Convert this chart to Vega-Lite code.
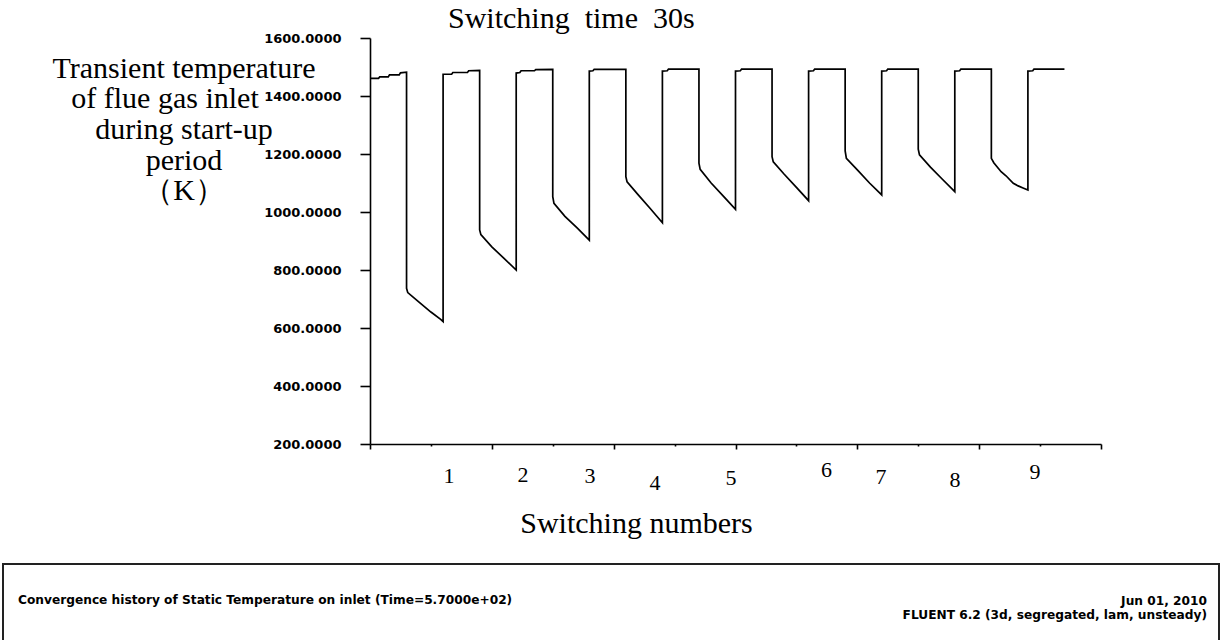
{
  "$schema": "https://vega.github.io/schema/vega-lite/v6.json",
  "background": "white",
  "padding": {"left": 2, "top": 4, "right": 0, "bottom": 0},
  "spacing": 25,
  "config": {
    "view": {"stroke": null},
    "axis": {"grid": false, "domainColor": "black", "tickColor": "black", "labelColor": "black", "titleColor": "black", "domainWidth": 1.6, "tickWidth": 1.6}
  },
  "datasets": {
    "temp": [
      {"t": 0, "T": 1461}, {"t": 7, "T": 1461}, {"t": 8, "T": 1466}, {"t": 15, "T": 1466}, {"t": 16, "T": 1473}, {"t": 24, "T": 1473}, {"t": 25, "T": 1480}, {"t": 30, "T": 1482},
      {"t": 30, "T": 737}, {"t": 31, "T": 722}, {"t": 40, "T": 690}, {"t": 50, "T": 655}, {"t": 58, "T": 630}, {"t": 60, "T": 622},
      {"t": 60, "T": 1475}, {"t": 67, "T": 1475}, {"t": 68, "T": 1481}, {"t": 80, "T": 1481}, {"t": 81, "T": 1487}, {"t": 90, "T": 1488},
      {"t": 90, "T": 938}, {"t": 91, "T": 922}, {"t": 100, "T": 880}, {"t": 110, "T": 840}, {"t": 120, "T": 800},
      {"t": 120, "T": 1479}, {"t": 123, "T": 1481}, {"t": 124, "T": 1487}, {"t": 135, "T": 1487}, {"t": 136, "T": 1491}, {"t": 150, "T": 1492},
      {"t": 150, "T": 1053}, {"t": 151, "T": 1030}, {"t": 160, "T": 985}, {"t": 170, "T": 945}, {"t": 180, "T": 903},
      {"t": 180, "T": 1486}, {"t": 183, "T": 1487}, {"t": 184, "T": 1492}, {"t": 210, "T": 1492},
      {"t": 210, "T": 1122}, {"t": 211, "T": 1104}, {"t": 220, "T": 1060}, {"t": 230, "T": 1012}, {"t": 240, "T": 963},
      {"t": 240, "T": 1486}, {"t": 244, "T": 1487}, {"t": 245, "T": 1493}, {"t": 270, "T": 1493},
      {"t": 270, "T": 1168}, {"t": 271, "T": 1147}, {"t": 280, "T": 1100}, {"t": 290, "T": 1055}, {"t": 300, "T": 1009},
      {"t": 300, "T": 1486}, {"t": 304, "T": 1487}, {"t": 305, "T": 1493}, {"t": 330, "T": 1493},
      {"t": 330, "T": 1191}, {"t": 331, "T": 1173}, {"t": 340, "T": 1130}, {"t": 350, "T": 1085}, {"t": 360, "T": 1039},
      {"t": 360, "T": 1486}, {"t": 364, "T": 1487}, {"t": 365, "T": 1493}, {"t": 390, "T": 1493},
      {"t": 390, "T": 1211}, {"t": 391, "T": 1185}, {"t": 400, "T": 1145}, {"t": 410, "T": 1100}, {"t": 420, "T": 1059},
      {"t": 420, "T": 1486}, {"t": 424, "T": 1487}, {"t": 425, "T": 1493}, {"t": 450, "T": 1493},
      {"t": 450, "T": 1217}, {"t": 451, "T": 1197}, {"t": 460, "T": 1155}, {"t": 470, "T": 1112}, {"t": 480, "T": 1070},
      {"t": 480, "T": 1486}, {"t": 484, "T": 1487}, {"t": 485, "T": 1493}, {"t": 510, "T": 1493},
      {"t": 510, "T": 1185}, {"t": 512, "T": 1170}, {"t": 518, "T": 1139}, {"t": 522, "T": 1125}, {"t": 528, "T": 1099}, {"t": 532, "T": 1090}, {"t": 536, "T": 1083}, {"t": 540, "T": 1076},
      {"t": 540, "T": 1486}, {"t": 544, "T": 1487}, {"t": 545, "T": 1493}, {"t": 570, "T": 1493}
    ],
    "switches": [
      {"t": 64.8, "T": 90, "n": "1"},
      {"t": 125.6, "T": 93, "n": "2"},
      {"t": 180.6, "T": 88, "n": "3"},
      {"t": 234, "T": 67, "n": "4"},
      {"t": 296.3, "T": 83, "n": "5"},
      {"t": 374.7, "T": 109, "n": "6"},
      {"t": 419.4, "T": 86, "n": "7"},
      {"t": 480.2, "T": 76, "n": "8"},
      {"t": 545.9, "T": 105, "n": "9"}
    ],
    "ytitle": [
      {"line": 1, "text": "Transient temperature"},
      {"line": 2, "text": "of flue gas inlet"},
      {"line": 3, "text": "during start-up"},
      {"line": 4, "text": "period"},
      {"line": 5, "text": "（K）"}
    ],
    "footer": [
      {"side": "left", "text": "Convergence history of Static Temperature on inlet  (Time=5.7000e+02)"},
      {"side": "right", "text": ["Jun 01, 2010", "FLUENT 6.2 (3d, segregated, lam, unsteady)"]}
    ]
  },
  "vconcat": [
    {
      "bounds": "flush",
      "spacing": 5,
      "hconcat": [
        {
          "width": 362,
          "height": 184,
          "data": {"name": "ytitle"},
          "encoding": {
            "y": {"field": "line", "type": "ordinal", "axis": null, "scale": {"type": "point", "padding": 1}},
            "text": {"field": "text"}
          },
          "layer": [
            {
              "transform": [{"filter": "datum.line !== 2"}],
              "mark": {"type": "text", "align": "center", "baseline": "middle", "font": "Liberation Serif", "fontSize": 30, "color": "black"}
            },
            {
              "transform": [{"filter": "datum.line === 2"}],
              "mark": {"type": "text", "align": "center", "baseline": "middle", "dx": -19, "font": "Liberation Serif", "fontSize": 30, "color": "black"}
            }
          ]
        },
        {
          "width": 731,
          "height": 406,
          "title": {"text": "Switching\u00a0 time\u00a0 30s", "anchor": "start", "frame": "group", "dx": 78, "offset": -26, "baseline": "alphabetic", "font": "Liberation Serif", "fontSize": 30, "fontWeight": "normal", "color": "black"},
          "layer": [
            {
              "data": {"name": "temp"},
              "mark": {"type": "line", "color": "black", "strokeWidth": 1.7, "interpolate": "linear"},
              "encoding": {
                "x": {"field": "t", "type": "quantitative", "scale": {"domain": [0, 600], "nice": false, "zero": false},
                  "axis": {"values": [0, 50, 100, 150, 200, 250, 300, 350, 400, 450, 500, 550, 600], "labels": false,
                    "tickSize": {"condition": {"test": "datum.value % 100 === 0", "value": 5}, "value": 2},
                    "title": "Switching numbers", "titleFont": "Liberation Serif", "titleFontSize": 30, "titleFontWeight": "normal",
                    "titleX": 266, "titleY": 88, "titleAlign": "center", "titleBaseline": "alphabetic", "titleAnchor": null}},
                "y": {"field": "T", "type": "quantitative", "scale": {"domain": [200, 1600], "nice": false, "zero": false},
                  "axis": {"values": [200, 300, 400, 500, 600, 700, 800, 900, 1000, 1100, 1200, 1300, 1400, 1500, 1600],
                    "format": ".4f", "labelExpr": "datum.value % 200 === 0 ? datum.label : ''",
                    "labelFont": "DejaVu Sans", "labelFontSize": 13, "labelFontWeight": "bold", "labelPadding": 19, "labelOverlap": false, "labelFlush": false,
                    "tickSize": {"condition": {"test": "datum.value % 200 === 0", "value": 10}, "value": 5},
                    "title": null}},
                "order": {"value": null}
              }
            },
            {
              "data": {"name": "switches"},
              "mark": {"type": "text", "font": "Liberation Serif", "fontSize": 22, "color": "black", "baseline": "middle", "align": "center", "clip": false},
              "encoding": {
                "x": {"field": "t", "type": "quantitative", "scale": {"domain": [0, 600], "nice": false, "zero": false}},
                "y": {"field": "T", "type": "quantitative", "scale": {"domain": [200, 1600], "nice": false, "zero": false}},
                "text": {"field": "n"}
              }
            }
          ]
        }
      ]
    },
    {
      "width": 1216,
      "height": 100,
      "view": {"stroke": "#222222", "strokeWidth": 2},
      "data": {"name": "footer"},
      "layer": [
        {
          "transform": [{"filter": "datum.side === 'left'"}],
          "mark": {"type": "text", "align": "left", "baseline": "middle", "dx": 15, "dy": -14, "font": "DejaVu Sans", "fontSize": 12.2, "fontWeight": "bold", "color": "black"},
          "encoding": {
            "x": {"field": "side", "type": "nominal", "scale": {"domain": ["left", "right"], "type": "point", "padding": 0}, "axis": null},
            "text": {"field": "text"}
          }
        },
        {
          "transform": [{"filter": "datum.side === 'right'"}],
          "mark": {"type": "text", "align": "right", "baseline": "middle", "dx": -12, "dy": -13, "lineHeight": 14, "font": "DejaVu Sans", "fontSize": 12.2, "fontWeight": "bold", "color": "black"},
          "encoding": {
            "x": {"field": "side", "type": "nominal", "scale": {"domain": ["left", "right"], "type": "point", "padding": 0}, "axis": null},
            "text": {"field": "text"}
          }
        }
      ]
    }
  ]
}
